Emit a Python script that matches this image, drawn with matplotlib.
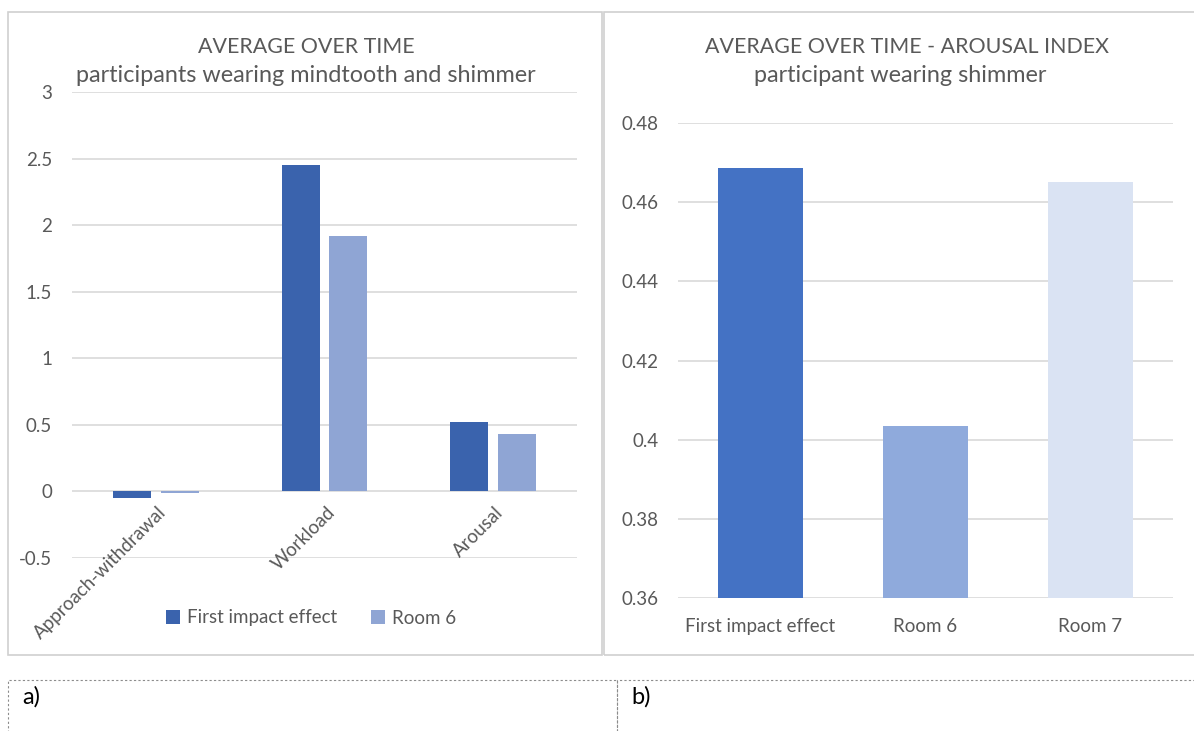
import matplotlib
matplotlib.use("Agg")
import matplotlib.pyplot as plt
import numpy as np
from matplotlib.patches import Rectangle

plt.rcParams['font.family'] = ['Lato', 'DejaVu Sans']

# ---- data ----
left_categories = ["Approach-withdrawal", "Workload", "Arousal"]
left_series_names = ["First impact effect", "Room 6"]
left_first = [-0.05, 2.45, 0.52]
left_room6 = [-0.015, 1.92, 0.43]
left_yticks = [-0.5, 0, 0.5, 1, 1.5, 2, 2.5, 3]
left_yticklabels = ["-0.5", "0", "0.5", "1", "1.5", "2", "2.5", "3"]

right_categories = ["First impact effect", "Room 6", "Room 7"]
right_values = [0.4686, 0.4035, 0.4650]
right_yticks = [0.36, 0.38, 0.40, 0.42, 0.44, 0.46, 0.48]
right_yticklabels = ["0.36", "0.38", "0.4", "0.42", "0.44", "0.46", "0.48"]

W, H = 1194, 731
fig = plt.figure(figsize=(W / 100, H / 100), dpi=100)

def fx(px):
    return px / W

def fy(py):
    return 1 - py / H

TXT = "#595959"
GRID = "#D9D9D9"
TICK_FS = 13.5
TITLE_FS = 15.4
SUB_FS = 16.8

# panel borders
fig.patches.append(Rectangle((fx(8), fy(655)), fx(594), (655 - 12) / H, transform=fig.transFigure,
                             fill=False, edgecolor="#D0D0D0", lw=1.2))
fig.patches.append(Rectangle((fx(604), fy(655)), fx(600), (655 - 12) / H, transform=fig.transFigure,
                             fill=False, edgecolor="#D0D0D0", lw=1.2))
# bottom dashed boxes
fig.patches.append(Rectangle((fx(8), fy(740)), fx(609), (740 - 680) / H, transform=fig.transFigure,
                             fill=False, edgecolor="#8C8C8C", lw=0.8, ls=(0, (2, 2))))
fig.patches.append(Rectangle((fx(617), fy(740)), fx(580), (740 - 680) / H, transform=fig.transFigure,
                             fill=False, edgecolor="#8C8C8C", lw=0.8, ls=(0, (2, 2))))
fig.text(fx(22), fy(697), "a)", fontsize=17, color="black", va="center", ha="left")
fig.text(fx(631), fy(697), "b)", fontsize=17, color="black", va="center", ha="left")

# ---- left chart ----
axL = fig.add_axes([fx(72), fy(558), fx(505), (558 - 92) / H])
x = np.arange(len(left_categories))
bw = 0.225
off = 0.142
axL.bar(x - off, left_first, bw, color="#3A63AD", label=left_series_names[0], zorder=3)
axL.bar(x + off, left_room6, bw, color="#8FA5D4", label=left_series_names[1], zorder=3)
axL.set_xlim(-0.5, 2.5)
axL.set_ylim(-0.5, 3)
axL.set_yticks(left_yticks)
axL.set_yticklabels(left_yticklabels)
axL.yaxis.grid(True, color=GRID, lw=1.2, zorder=0)
for s in axL.spines.values():
    s.set_visible(False)
axL.tick_params(axis='both', length=0, colors=TXT, labelsize=TICK_FS)
axL.tick_params(axis='y', pad=14.4)
axL.set_xticks([])
for xi, lab in zip(x, left_categories):
    axL.text(xi + 0.01, -0.09, lab, rotation=45, ha="right", va="top",
             rotation_mode="anchor", fontsize=TICK_FS, color=TXT)
leg = axL.legend(loc="center", bbox_to_anchor=(fx(311), fy(618)), bbox_transform=fig.transFigure,
                 ncol=2, frameon=False, fontsize=TICK_FS, handlelength=0.75, handleheight=0.75,
                 columnspacing=1.8, handletextpad=0.35)
for t in leg.get_texts():
    t.set_color(TXT)
fig.text(fx(306), fy(47), "AVERAGE OVER TIME", ha="center", va="center", fontsize=TITLE_FS, color=TXT)
fig.text(fx(306), fy(76), "participants wearing mindtooth and shimmer", ha="center", va="center",
         fontsize=SUB_FS, color=TXT)

# ---- right chart ----
axR = fig.add_axes([fx(678), fy(598), fx(495), (598 - 123) / H])
xr = np.arange(len(right_categories))
axR.bar(xr, right_values, 0.51, color=["#4472C4", "#8FAADC", "#DAE3F3"], zorder=3)
axR.set_xlim(-0.5, 2.5)
axR.set_ylim(0.36, 0.48)
axR.set_yticks(right_yticks)
axR.set_yticklabels(right_yticklabels)
axR.set_xticks(xr)
axR.set_xticklabels(right_categories)
axR.yaxis.grid(True, color=GRID, lw=1.2, zorder=0)
for s in axR.spines.values():
    s.set_visible(False)
axR.tick_params(axis='both', length=0, colors=TXT, labelsize=TICK_FS)
axR.tick_params(axis='y', pad=14)
axR.tick_params(axis='x', pad=14.5)
fig.text(fx(907), fy(47), "AVERAGE OVER TIME - AROUSAL INDEX", ha="center", va="center",
         fontsize=TITLE_FS, color=TXT)
fig.text(fx(900), fy(76), "participant wearing shimmer", ha="center", va="center",
         fontsize=SUB_FS, color=TXT)

fig.savefig("out.png", dpi=100, facecolor="white")
